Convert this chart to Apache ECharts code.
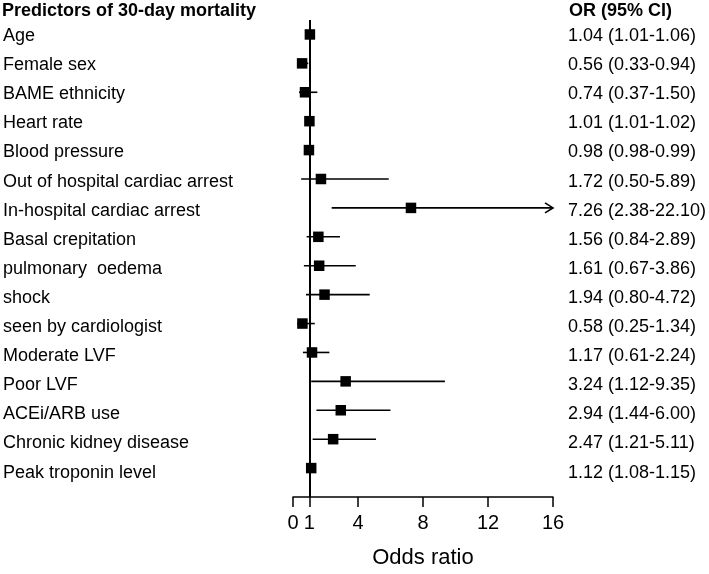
<!DOCTYPE html>
<html>
<head>
<meta charset="utf-8">
<script src="https://cdn.jsdelivr.net/npm/echarts@6/dist/echarts.min.js"></script>
<style>html,body{margin:0;padding:0;background:#fff}#c{width:709px;height:574px}</style>
</head>
<body>
<div id="c"></div>
<script>
var predictors = ["Age","Female sex","BAME ethnicity","Heart rate","Blood pressure","Out of hospital cardiac arrest","In-hospital cardiac arrest","Basal crepitation","pulmonary  oedema","shock","seen by cardiologist","Moderate LVF","Poor LVF","ACEi/ARB use","Chronic kidney disease","Peak troponin level"];
var oddsRatio = [1.04,0.56,0.74,1.01,0.98,1.72,7.26,1.56,1.61,1.94,0.58,1.17,3.24,2.94,2.47,1.12];
var ciLow = [1.01,0.33,0.37,1.01,0.98,0.50,2.38,0.84,0.67,0.80,0.25,0.61,1.12,1.44,1.21,1.08];
var ciHigh = [1.06,0.94,1.50,1.02,0.99,5.89,22.10,2.89,3.86,4.72,1.34,2.24,9.35,6.00,5.11,1.15];
var xTicks = [0,1,4,8,12,16];
var xMax = 16;

var orText = oddsRatio.map(function(v,i){
  return v.toFixed(2) + ' (' + ciLow[i].toFixed(2) + '-' + ciHigh[i].toFixed(2) + ')';
});
var FONT = '"Liberation Sans", Arial, sans-serif';

var chart = echarts.init(document.getElementById('c'), null, {renderer:'canvas'});
var ciData = predictors.map(function(n,i){ return [ciLow[i], ciHigh[i], i]; });
var ptData = predictors.map(function(n,i){ return [oddsRatio[i], i]; });

chart.setOption({
  animation:false,
  backgroundColor:'#fff',
  textStyle:{fontFamily:FONT},
  title:[
    {text:'Predictors of 30-day mortality', left:2, top:2, padding:0,
     textStyle:{fontFamily:FONT, fontSize:18, fontWeight:'bold', color:'#000'}},
    {text:'OR (95% CI)', left:569, top:2, padding:0,
     textStyle:{fontFamily:FONT, fontSize:18, fontWeight:'bold', color:'#000'}}
  ],
  grid:[
    {left:293, right:156, top:20, bottom:74},
    {left:293, right:156, top:21.5, height:465.6}
  ],
  xAxis:[
    {gridIndex:0, type:'value', min:0, max:xMax, position:'bottom',
     name:'Odds ratio', nameLocation:'middle', nameGap:50,
     nameTextStyle:{fontFamily:FONT, fontSize:22, color:'#000'},
     axisLine:{show:true, onZero:false, lineStyle:{color:'#000', width:1.5}},
     axisTick:{show:true, length:10, inside:false, customValues:xTicks, lineStyle:{color:'#000', width:1.5}},
     axisLabel:{customValues:xTicks, margin:16, fontFamily:FONT, fontSize:20, color:'#000'},
     splitLine:{show:false}},
    {gridIndex:1, type:'value', min:0, max:xMax, show:false}
  ],
  yAxis:[
    {gridIndex:0, type:'value', min:-0.5, max:16, inverse:true, show:false},
    {gridIndex:1, type:'category', data:predictors, inverse:true, position:'left',
     axisLine:{show:false}, axisTick:{show:false},
     axisLabel:{align:'left', margin:291, fontFamily:FONT, fontSize:18, color:'#000'}},
    {gridIndex:1, type:'category', data:orText, inverse:true, position:'right',
     axisLine:{show:false}, axisTick:{show:false},
     axisLabel:{align:'left', margin:16, fontFamily:FONT, fontSize:18, color:'#000'}}
  ],
  series:[
    {type:'custom', xAxisIndex:0, yAxisIndex:0, data:ciData, clip:false,
     renderItem:function(params, api){
       var lo = api.value(0), hi = api.value(1), y = api.value(2);
       var capped = hi > xMax;
       var p0 = api.coord([lo, y]);
       var p1 = api.coord([capped ? xMax : hi, y]);
       var children = [{type:'line', shape:{x1:p0[0], y1:p0[1], x2:p1[0], y2:p1[1]},
                        style:{stroke:'#000', lineWidth:1.6}}];
       if (capped) {
         children.push({type:'polyline', shape:{points:[[p1[0]-8,p1[1]-5],[p1[0],p1[1]],[p1[0]-8,p1[1]+5]]},
                        style:{stroke:'#000', lineWidth:1.6, fill:null}});
       }
       return {type:'group', children:children};
     }},
    {type:'scatter', xAxisIndex:0, yAxisIndex:0, data:ptData, symbol:'rect', symbolSize:10.5,
     itemStyle:{color:'#000', opacity:1}, z:5,
     markLine:{silent:true, symbol:'none', label:{show:false},
               lineStyle:{color:'#000', width:2, type:'solid', opacity:1},
               data:[{xAxis:1}]}}
  ]
});
</script>
</body>
</html>
